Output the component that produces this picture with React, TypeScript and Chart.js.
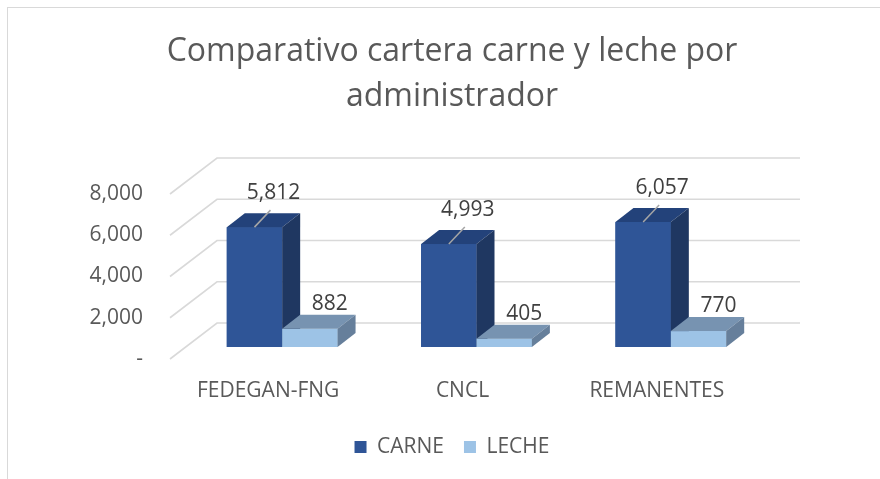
import React, { useEffect, useRef } from "react";
import { Chart, registerables } from "chart.js";

Chart.register(...registerables);

// ---- data ----
const titleLines = ["Comparativo cartera carne y leche por", "administrador"];
const categories = ["FEDEGAN-FNG", "CNCL", "REMANENTES"];
const seriesNames = ["CARNE", "LECHE"];
const carne = [5812, 4993, 6057];
const leche = [882, 405, 770];
const yTicks = [0, 2000, 4000, 6000, 8000];

// ---- styles ----
const FONT = "'Open Sans', 'Liberation Sans', sans-serif";
const FACES = [
  { front: "#2F5597", top: "#23427A", side: "#1F3761" },
  { front: "#9DC3E6", top: "#7793B1", side: "#667F9B" },
];
const DEPTH = { dx: 18, dy: -14 }; // bar depth
const WALL = { dx: 32, dy: -24 }; // back wall offset from bar front plane
const FLOOR = { dx: -15, dy: 12 }; // floor front offset from bar front plane

const fmt = (v: number) => (v === 0 ? "-" : v.toLocaleString("en-US"));

const threeD = {
  id: "threeD",
  beforeDatasetsDraw(chart: any) {
    const { ctx, chartArea, scales } = chart;
    const ys = scales.y;
    ctx.save();
    ctx.strokeStyle = "#d9d9d9";
    ctx.lineWidth = 1.6;
    for (const t of yTicks) {
      const py = ys.getPixelForValue(t);
      ctx.beginPath();
      ctx.moveTo(chartArea.left + FLOOR.dx, py + FLOOR.dy);
      ctx.lineTo(chartArea.left + WALL.dx, py + WALL.dy);
      ctx.lineTo(chartArea.right + WALL.dx, py + WALL.dy);
      ctx.stroke();
    }
    ctx.restore();
  },
  afterDatasetsDraw(chart: any) {
    const { ctx } = chart;
    const nSets = chart.data.datasets.length;
    ctx.save();
    // solid faces: per category, left-to-right series so nearer faces overlap correctly
    for (let i = 0; i < categories.length; i++) {
      for (let d = 0; d < nSets; d++) {
        const el = chart.getDatasetMeta(d).data[i];
        if (!el) continue;
        const faces = FACES[d];
        const { x, y, base, width } = el.getProps(["x", "y", "base", "width"], true);
        const l = x - width / 2;
        const r = x + width / 2;
        // front face
        ctx.fillStyle = faces.front;
        ctx.fillRect(l, y, width, base - y);
        // top face
        ctx.fillStyle = faces.top;
        ctx.beginPath();
        ctx.moveTo(l, y);
        ctx.lineTo(l + DEPTH.dx, y + DEPTH.dy);
        ctx.lineTo(r + DEPTH.dx, y + DEPTH.dy);
        ctx.lineTo(r, y);
        ctx.closePath();
        ctx.fill();
        // side face
        ctx.fillStyle = faces.side;
        ctx.beginPath();
        ctx.moveTo(r, y);
        ctx.lineTo(r + DEPTH.dx, y + DEPTH.dy);
        ctx.lineTo(r + DEPTH.dx, base + DEPTH.dy);
        ctx.lineTo(r, base);
        ctx.closePath();
        ctx.fill();
      }
    }
    // data labels
    ctx.font = `21px ${FONT}`;
    ctx.fillStyle = "#404040";
    ctx.textAlign = "center";
    ctx.textBaseline = "middle";
    chart.data.datasets.forEach((ds: any, di: number) => {
      const meta = chart.getDatasetMeta(di);
      meta.data.forEach((el: any, i: number) => {
        const { x, y } = el.getProps(["x", "y"], true);
        const v = ds.data[i] as number;
        if (di === 0) {
          ctx.strokeStyle = "#a6a6a6";
          ctx.lineWidth = 1.5;
          ctx.beginPath();
          ctx.moveTo(x, y);
          ctx.lineTo(x + 16, y - 17);
          ctx.stroke();
          ctx.fillText(fmt(v), x + 19, y - 34);
        } else {
          ctx.fillText(fmt(v), x + 20, y - 25);
        }
      });
    });
    ctx.restore();
  },
};

export default function App() {
  const ref = useRef<HTMLCanvasElement>(null);
  useEffect(() => {
    const canvas = ref.current!;
    Chart.defaults.font.family = FONT;
    const chart = new Chart(canvas, {
      type: "bar",
      data: {
        labels: categories,
        datasets: [
          { label: seriesNames[0], data: carne, backgroundColor: FACES[0].front, borderWidth: 0 },
          { label: seriesNames[1], data: leche, backgroundColor: FACES[1].front, borderWidth: 0 },
        ],
      },
      options: {
        responsive: false,
        animation: false,
        devicePixelRatio: 1,
        events: [],
        layout: { padding: { left: 16, right: 0, top: 0, bottom: 11.5 } },
        datasets: { bar: { categoryPercentage: 0.57, barPercentage: 1 } },
        scales: {
          x: {
            grid: { display: false, drawTicks: false },
            border: { display: false },
            ticks: {
              font: { size: 21 },
              color: "#595959",
              labelOffset: -14,
              padding: 31.4,
              maxRotation: 0,
              autoSkip: false,
            },
            afterFit(s: any) {
              s.height = 69.5;
            },
          },
          y: {
            min: 0,
            max: 8000,
            grid: { display: false, drawTicks: false },
            border: { display: false },
            ticks: {
              font: { size: 21 },
              color: "#595959",
              padding: 42,
              labelOffset: 12,
              callback: (v: any) => fmt(Number(v)),
            },
            afterBuildTicks(s: any) {
              s.ticks = yTicks.map((v) => ({ value: v }));
            },
            afterFit(s: any) {
              s.width = 161;
            },
          },
          y2: {
            position: "right",
            display: true,
            grid: { display: false, drawTicks: false },
            border: { display: false },
            ticks: { display: false },
            afterFit(s: any) {
              s.width = 112;
            },
          },
        },
        plugins: {
          title: {
            display: true,
            text: titleLines,
            color: "#595959",
            font: { size: 32, weight: "normal", lineHeight: 45 / 32 },
            padding: { top: 21.5, bottom: 62.5 },
          },
          legend: {
            position: "bottom",
            labels: {
              color: "#595959",
              font: { size: 21 },
              boxWidth: 12,
              boxHeight: 12,
              padding: 20,
            },
          },
          tooltip: { enabled: false },
        },
      } as any,
      plugins: [threeD],
    });
    return () => chart.destroy();
  }, []);

  return (
    <div
      style={{
        position: "absolute",
        left: 7,
        top: 7,
        width: 872,
        height: 471,
        borderLeft: "1px solid #d9d9d9",
        borderTop: "1px solid #d9d9d9",
        background: "#ffffff",
      }}
    >
      <canvas ref={ref} width={872} height={471} style={{ display: "block" }} />
    </div>
  );
}
